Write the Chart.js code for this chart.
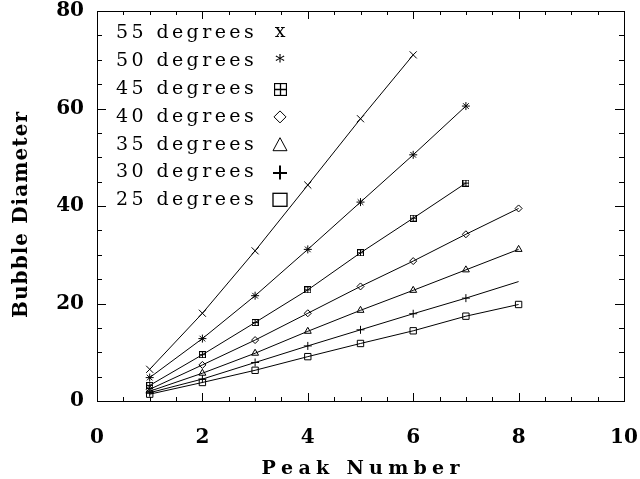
<!DOCTYPE html>
<html>
<head>
<meta charset="utf-8">
<script src="https://cdn.jsdelivr.net/npm/chart.js@4.4.1/dist/chart.umd.min.js"></script>
<style>
  html, body { margin: 0; padding: 0; background: #fff; }
  #wrap { width: 640px; height: 479px; }
</style>
</head>
<body>
<div id="wrap"><canvas id="chart"></canvas></div>
<script>
// data
const peaks = [1, 2, 3, 4, 5, 6, 7, 8];
const deg55 = [6.5, 18.0, 30.8, 44.3, 57.9, 71.0];
const deg50 = [4.8, 12.8, 21.6, 31.1, 40.8, 50.5, 60.5];
const deg45 = [3.2, 9.5, 16.1, 22.8, 30.4, 37.5, 44.7];
const deg40 = [2.4, 7.4, 12.5, 18.0, 23.5, 28.7, 34.2, 39.5];
const deg35 = [2.0, 5.7, 9.8, 14.3, 18.6, 22.7, 26.9, 31.1];
const deg30 = [1.7, 4.5, 7.9, 11.3, 14.6, 17.9, 21.1, 24.5];
const deg25 = [1.4, 3.8, 6.3, 9.1, 11.8, 14.4, 17.4, 19.8];
const seriesNames = ['55 degrees', '50 degrees', '45 degrees', '40 degrees', '35 degrees', '30 degrees', '25 degrees'];

const xMin = 0, xMax = 10, xStep = 2, xMinor = 0.5;
const yMin = 0, yMax = 80, yStep = 20, yMinor = 5;

const SERIF = '"DejaVu Serif", "Liberation Serif", serif';

// square with a plus inside (no built-in style for it)
function boxPlus(size, lw) {
  const c = document.createElement('canvas');
  c.width = size; c.height = size;
  const g = c.getContext('2d');
  g.strokeStyle = '#000';
  g.lineWidth = lw;
  g.strokeRect(0.5, 0.5, size - 1, size - 1);
  const m = Math.floor(size / 2) + 0.5;
  g.beginPath();
  g.moveTo(m, 0); g.lineTo(m, size);
  g.moveTo(0, m); g.lineTo(size, m);
  g.stroke();
  return c;
}

function pts(vals) {
  return vals.map((v, i) => ({ x: peaks[i], y: v }));
}

function series(vals, style, radius) {
  return {
    data: pts(vals),
    borderColor: '#000',
    borderWidth: 1,
    pointStyle: style,
    pointRadius: radius,
    pointBorderColor: '#000',
    pointBorderWidth: 1,
    pointBackgroundColor: 'rgba(0,0,0,0)',
    tension: 0
  };
}

// draw text one char at a time so letter spacing can be stretched
function spacedText(ctx, text, left, cy, gap) {
  let x = left;
  ctx.textAlign = 'left';
  for (const ch of text) {
    ctx.fillText(ch, x, cy);
    x += ctx.measureText(ch).width + gap;
  }
  return x - gap;
}

function spacedCentered(ctx, text, cx, cy, totalWidth) {
  const natural = [...text].reduce((a, ch) => a + ctx.measureText(ch).width, 0);
  const gap = (totalWidth - natural) / (text.length - 1);
  spacedText(ctx, text, cx - totalWidth / 2, cy, gap);
}

const frame = {
  id: 'frame',
  afterDraw(chart) {
    const { ctx, chartArea: a, scales: { x, y } } = chart;
    ctx.save();
    ctx.strokeStyle = '#000';
    ctx.lineWidth = 1;
    ctx.strokeRect(a.left + 0.5, a.top + 0.5, a.right - a.left, a.bottom - a.top);

    // inward ticks on all four sides
    ctx.beginPath();
    for (let v = xMin; v <= xMax; v += xMinor) {
      const px = Math.round(x.getPixelForValue(v)) + 0.5;
      const len = v % xStep === 0 ? 8 : 4;
      ctx.moveTo(px, a.bottom); ctx.lineTo(px, a.bottom - len);
      ctx.moveTo(px, a.top); ctx.lineTo(px, a.top + len);
    }
    for (let v = yMin; v <= yMax; v += yMinor) {
      const py = Math.round(y.getPixelForValue(v)) + 0.5;
      const len = v % yStep === 0 ? 9 : 5;
      ctx.moveTo(a.left, py); ctx.lineTo(a.left + len, py);
      ctx.moveTo(a.right, py); ctx.lineTo(a.right - len, py);
    }
    ctx.stroke();

    // axis titles
    ctx.fillStyle = '#000';
    ctx.textBaseline = 'middle';
    ctx.font = 'bold 19px ' + SERIF;
    spacedCentered(ctx, 'Peak Number', (a.left + a.right) / 2, 469, 198);

    ctx.save();
    ctx.translate(22, 215);
    ctx.rotate(-Math.PI / 2);
    ctx.font = 'bold 20px ' + SERIF;
    spacedCentered(ctx, 'Bubble Diameter', 0, 0, 206);
    ctx.restore();

    // legend inside the plot
    const x0 = 116;
    ctx.font = '19px ' + SERIF;
    seriesNames.forEach((name, i) => {
      const ry = 33.5 + i * 27.8;
      spacedText(ctx, name, x0, ry, 3.4);
      const sx = 280;
      ctx.lineWidth = 1;
      ctx.textAlign = 'center';
      ctx.beginPath();
      if (i === 0) {
        ctx.fillText('x', sx, ry - 1);
      } else if (i === 1) {
        ctx.fillText('*', sx, ry + 2);
      } else if (i === 2) {
        ctx.drawImage(boxPlus(13, 1.3), Math.round(sx - 6.5), Math.round(ry - 6.5));
      } else if (i === 3) {
        ctx.moveTo(sx, ry - 6); ctx.lineTo(sx + 6, ry);
        ctx.lineTo(sx, ry + 6); ctx.lineTo(sx - 6, ry); ctx.closePath();
        ctx.stroke();
      } else if (i === 4) {
        ctx.moveTo(sx, ry - 7); ctx.lineTo(sx + 7, ry + 6);
        ctx.lineTo(sx - 7, ry + 6); ctx.closePath();
        ctx.stroke();
      } else if (i === 5) {
        ctx.lineWidth = 2;
        ctx.moveTo(sx - 7, ry + 0.5); ctx.lineTo(sx + 7, ry + 0.5);
        ctx.moveTo(sx, ry - 7); ctx.lineTo(sx, ry + 7);
        ctx.stroke();
      } else {
        ctx.lineWidth = 1.3;
        ctx.strokeRect(sx - 7, ry - 7, 14, 13);
      }
    });
    ctx.restore();
  }
};

const crossMarks = deg30.map((v, i) => (i === deg30.length - 1 ? 0 : 4));

new Chart(document.getElementById('chart'), {
  type: 'line',
  data: {
    datasets: [
      series(deg55, 'crossRot', 5),
      series(deg50, 'star', 4),
      series(deg45, boxPlus(7, 1), 4),
      series(deg40, 'rectRot', 3.5),
      series(deg35, 'triangle', 4),
      series(deg30, 'cross', crossMarks),
      series(deg25, 'rect', 4.5)
    ]
  },
  options: {
    responsive: true,
    maintainAspectRatio: false,
    animation: false,
    layout: { padding: { left: 5, right: 16, top: 11, bottom: 4 } },
    plugins: {
      legend: { display: false },
      tooltip: { enabled: false }
    },
    scales: {
      x: {
        type: 'linear',
        min: xMin,
        max: xMax,
        grid: { display: false, drawTicks: false },
        border: { display: false },
        afterFit: s => {
          s.height = 479 - 401 - 4;
          s.paddingLeft = 0;
          s.paddingRight = 0;
        },
        ticks: {
          stepSize: xStep,
          padding: 25,
          color: '#000',
          font: { family: SERIF, size: 20, weight: 'bold' }
        }
      },
      y: {
        min: yMin,
        max: yMax,
        grid: { display: false, drawTicks: false },
        border: { display: false },
        afterFit: s => {
          s.width = 97 - 5;
          s.paddingTop = 0;
          s.paddingBottom = 0;
        },
        ticks: {
          stepSize: yStep,
          padding: 13,
          color: '#000',
          font: { family: SERIF, size: 20, weight: 'bold' }
        }
      }
    }
  },
  plugins: [frame]
});
</script>
</body>
</html>
